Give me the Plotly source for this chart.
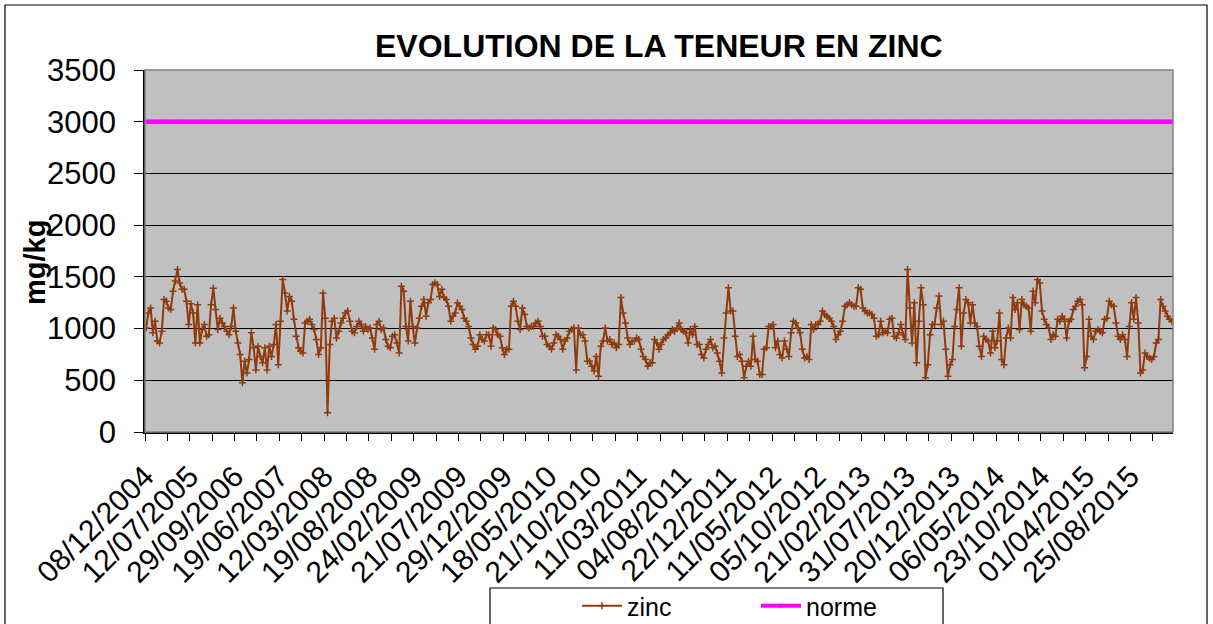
import plotly.graph_objects as go

# Zinc content of sludge samples (mg/kg), one value per sample, in sampling order
zinc = [
    1005, 1150, 1200, 960, 1070, 880, 860, 975, 1280, 1265, 1200, 1185, 1360, 1460, 1570, 1440, 1380, 1380, 1265, 1040,
    1240, 1150, 860, 1230, 860, 990, 1040, 925, 940, 1230, 1390, 1185, 990, 1100, 1055, 1020, 975, 940, 1020, 1200,
    975, 860, 750, 475, 685, 570, 700, 960, 815, 600, 830, 730, 670, 815, 600, 830, 730, 845, 1040, 650,
    1070, 1475, 1345, 1170, 1310, 1265, 1090, 925, 815, 780, 765, 1055, 1070, 1090, 1040, 990, 895, 750, 815, 1345,
    1100, 185, 845, 1070, 1100, 910, 975, 1055, 1100, 1150, 1170, 1070, 975, 960, 1020, 1070, 1040, 975, 1020, 990,
    1005, 910, 800, 1040, 1070, 990, 1005, 895, 830, 815, 925, 940, 860, 765, 1410, 1360, 1020, 880, 1265, 1020,
    860, 1005, 1100, 1215, 1280, 1120, 1250, 1280, 1425, 1440, 1425, 1310, 1380, 1300, 1280, 1215, 1070, 1120, 1150, 1250,
    1215, 1185, 1100, 1070, 1020, 910, 845, 800, 830, 940, 895, 880, 940,
    940, 830, 1005, 990, 940, 925, 815, 750, 800, 800, 1215, 1265, 1215, 1070, 990, 1200, 1135,
    1020, 1005, 1020, 1020, 1055, 1070, 1020, 925, 925, 845, 830, 800, 860, 940, 925, 895, 800, 880, 910, 975,
    990, 1005, 600, 1005, 940, 940, 880, 685, 685, 635, 590, 730, 540, 830, 880, 1005, 880, 895, 845, 860,
    815, 845, 1300, 1150, 1055, 910, 845, 880, 880, 910, 895, 800, 730, 700, 635, 670, 670, 895, 860, 800,
    845, 895, 910, 940, 960, 990, 975, 1005, 1055, 990, 975, 960, 860, 990, 940, 1020, 845, 845, 750, 715,
    800, 845, 895, 815, 830, 765, 685, 570, 910, 1150, 1395, 1170, 1170, 925, 730, 750, 685, 525, 635, 685,
    635, 925, 700, 685, 555, 555, 800, 815, 1020, 1020, 1040, 815, 880, 750, 715, 880, 800, 730, 960, 1070,
    1055, 1005, 960, 800, 715, 730, 700, 1040, 990, 1040, 1040, 1070, 1170, 1135, 1120,
    1100, 1070, 1020, 895, 940, 975, 1070, 1215, 1230, 1250, 1230, 1215, 1215, 1395, 1380,
    1200, 1170, 1150, 1150, 1135, 1100, 925, 940, 1070, 960, 975, 960, 1090, 1100, 925, 910, 960, 1040, 940, 895,
    1570, 1200, 860, 1250, 670, 1070, 1395, 1230, 525, 650, 940, 1040, 1040, 1200, 1315, 1040, 1070, 800, 540, 650,
    700, 1020, 1185, 1395, 830, 1150, 1280, 1250, 1055, 1230, 1055, 1020, 830, 730, 925, 895, 880, 765, 975, 815,
    880, 1150, 700, 650, 910, 1005, 910, 1300, 1185, 1250, 990, 1280, 1230, 1215, 1200, 975, 1360, 1250, 1475, 1440,
    1170, 1090, 1040, 1005, 895, 940, 925, 1090, 1070, 1120, 1090, 910, 1070, 1090, 1185, 1215, 1265, 1280, 1230, 620,
    730, 1090, 925, 895, 975, 990, 975, 960, 1090, 1100, 1265, 1230, 1215, 1055, 925, 895, 940, 895, 730, 1020,
    1250, 1090, 1300, 1055, 570, 600, 765, 730, 715, 700, 730, 860, 895, 1280, 1215, 1170, 1120, 1090, 1070,
]

# Regulatory limit for zinc (mg/kg)
norme_value = 3000
norme = [norme_value] * len(zinc)

# Sampling dates printed under the axis (one every 20 samples)
date_labels = [
    "08/12/2004", "12/07/2005", "29/09/2006", "19/06/2007", "12/03/2008", "19/08/2008",
    "24/02/2009", "21/07/2009", "29/12/2009", "18/05/2010", "21/10/2010", "11/03/2011",
    "04/08/2011", "22/12/2011", "11/05/2012", "05/10/2012", "21/02/2013", "31/07/2013",
    "20/12/2013", "06/05/2014", "23/10/2014", "01/04/2015", "25/08/2015",
]
label_step = 20   # samples between two printed dates
tick_step = 10    # samples between two tick marks

y_ticks = [0, 500, 1000, 1500, 2000, 2500, 3000, 3500]

n = len(zinc)
idx = list(range(n))

# tick marks every 10 samples on category boundaries, dates every other tick
tickvals = [k * tick_step - 0.5 for k in range((n - 1) // tick_step + 1)]
ticktext = []
for k in range(len(tickvals)):
    j = k * tick_step // label_step
    if (k * tick_step) % label_step == 0 and j < len(date_labels):
        ticktext.append(date_labels[j])
    else:
        ticktext.append("")

FONT = "Liberation Sans, Arial, sans-serif"
BROWN = "#8F3B0D"
MAGENTA = "#FF00FF"

fig = go.Figure()
fig.add_trace(go.Scatter(
    x=idx, y=zinc, name="zinc", mode="lines+markers",
    line=dict(color=BROWN, width=2),
    marker=dict(symbol="cross-thin", size=5, line=dict(color=BROWN, width=1.5), color=BROWN),
))
fig.add_trace(go.Scatter(
    x=idx, y=norme, name="norme", mode="lines+markers",
    line=dict(color=MAGENTA, width=4),
    marker=dict(symbol="square", size=4, color=MAGENTA),
))

L, R, T, B = 145, 40, 70, 192
W, H = 1213, 624
pw, ph = W - L - R, H - T - B


def px_x(p):
    return (p - L) / pw


def px_y(p):
    return (H - B - p) / ph


fig.update_layout(
    width=W, height=H,
    margin=dict(l=L, r=R, t=T, b=B, autoexpand=False),
    paper_bgcolor="white",
    plot_bgcolor="#C0C0C0",
    font=dict(family=FONT, color="black", size=24),
    showlegend=True,
    legend=dict(
        orientation="h",
        x=px_x(577), y=px_y(583), xanchor="left", yanchor="top",
        borderwidth=0, bgcolor="rgba(0,0,0,0)",
        font=dict(family=FONT, size=25, color="black"),
        entrywidth=124, itemwidth=40,
        traceorder="normal",
    ),
    xaxis=dict(
        range=[-0.5, n - 0.5],
        tickmode="array", tickvals=tickvals, ticktext=ticktext,
        tickangle=-45,
        ticks="outside", ticklen=7, tickcolor="black", tickwidth=1,
        tickfont=dict(family=FONT, size=30, color="black"),
        showgrid=False, zeroline=False,
        showline=True, linecolor="black", linewidth=1.5,
        ticklabelstandoff=6,
    ),
    yaxis=dict(
        range=[0, 3500],
        tickmode="array", tickvals=y_ticks, ticktext=[str(v) for v in y_ticks],
        ticks="outside", ticklen=9, tickcolor="black", tickwidth=1,
        tickfont=dict(family=FONT, size=31, color="black"),
        showgrid=True, gridcolor="black", gridwidth=1,
        zeroline=False,
        showline=True, linecolor="black", linewidth=1.5,
        ticklabelstandoff=12,
    ),
    shapes=[
        # plot area frame
        dict(type="rect", xref="paper", yref="paper", x0=0, x1=1, y0=0, y1=1,
             line=dict(color="#808080", width=1.5), fillcolor="rgba(0,0,0,0)", layer="above"),
        # chart area frame
        dict(type="rect", xref="paper", yref="paper",
             x0=px_x(5), x1=px_x(1207), y0=px_y(660), y1=px_y(5),
             line=dict(color="black", width=1.2), fillcolor="rgba(0,0,0,0)", layer="below"),
        # legend frame
        dict(type="rect", xref="paper", yref="paper",
             x0=px_x(490), x1=px_x(943), y0=px_y(640), y1=px_y(588),
             line=dict(color="black", width=1.2), fillcolor="white", layer="below"),
    ],
    annotations=[
        dict(text="<b>EVOLUTION DE LA TENEUR EN ZINC</b>", xref="paper", yref="paper",
             x=0.5, y=px_y(46), xanchor="center", yanchor="middle", showarrow=False,
             font=dict(family=FONT, size=32, color="black")),
        dict(text="<b>mg/kg</b>", xref="paper", yref="paper",
             x=px_x(35), y=px_y(263), xanchor="center", yanchor="middle", showarrow=False,
             textangle=-90, font=dict(family=FONT, size=29, color="black")),
    ],
)

fig.write_html("out.html")
